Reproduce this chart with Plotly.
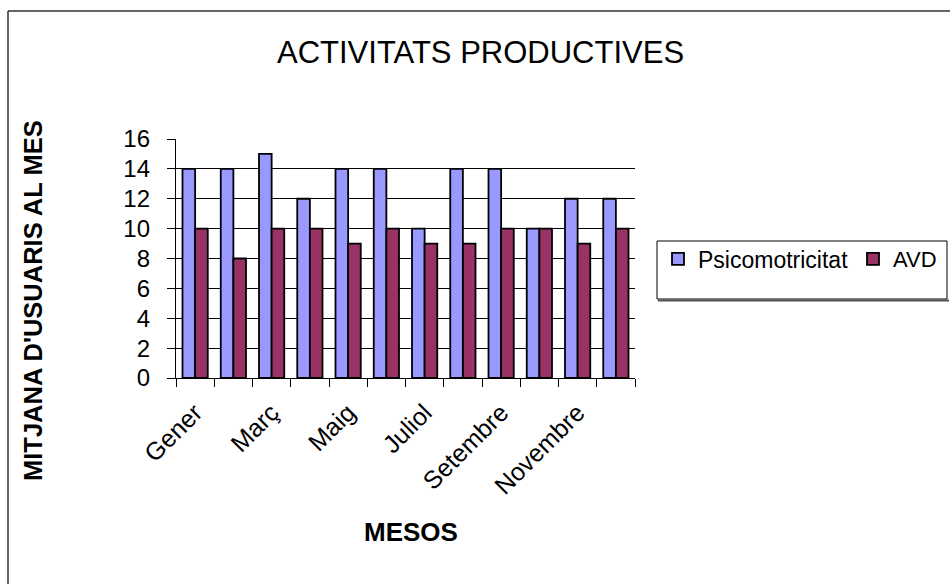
import plotly.graph_objects as go

# Monthly averages of users per activity
mesos = ["Gener", "Febrer", "Març", "Abril", "Maig", "Juny",
         "Juliol", "Agost", "Setembre", "Octubre", "Novembre", "Desembre"]
psicomotricitat = [14, 14, 15, 12, 14, 14, 10, 14, 14, 10, 12, 12]
avd = [10, 8, 10, 10, 9, 10, 9, 9, 10, 10, 9, 10]

# Only every other month gets a visible label
etiquetes = [m if i % 2 == 0 else "" for i, m in enumerate(mesos)]

W, H = 950, 584
L, R, T, B = 176, 315, 139, 206
PW, PH = W - L - R, H - T - B


def px_x(px):
    return (px - L) / PW


def px_y(py):
    return (H - B - py) / PH


FONT = "Liberation Sans, Arial, sans-serif"

fig = go.Figure()
fig.add_trace(go.Bar(
    x=mesos, y=psicomotricitat, name="Psicomotricitat", legend="legend",
    marker=dict(color="#9999FF", line=dict(color="#000000", width=1.8)),
))
fig.add_trace(go.Bar(
    x=mesos, y=avd, name="AVD", legend="legend2",
    marker=dict(color="#993366", line=dict(color="#000000", width=1.8)),
))

legend_common = dict(
    orientation="h", xanchor="left", yanchor="middle", y=px_y(259),
    bgcolor="rgba(0,0,0,0)", borderwidth=0,
    font=dict(size=23, family=FONT, color="#000000"),
    itemclick=False,
)

fig.update_layout(
    width=W, height=H,
    margin=dict(l=L, r=R, t=T, b=B, pad=0, autoexpand=False),
    paper_bgcolor="white", plot_bgcolor="white",
    barmode="group", bargap=0.34, bargroupgap=0,
    font=dict(family=FONT, color="#000000"),
    showlegend=True,
    legend=dict(legend_common, x=px_x(658)),
    legend2=dict(legend_common, x=px_x(853),
                 font=dict(size=22, family=FONT, color="#000000")),
    xaxis=dict(
        type="category", categoryorder="array", categoryarray=mesos,
        tickmode="array", tickvals=mesos, ticktext=etiquetes,
        tickson="boundaries", ticks="outside", ticklen=8,
        tickcolor="#000000", tickwidth=1,
        tickangle=-45, tickfont=dict(size=25, family=FONT),
        ticklabelstandoff=9,
        showline=True, linecolor="#000000", linewidth=1.3,
        showgrid=False, zeroline=False,
        range=[-0.5, 11.5],
    ),
    yaxis=dict(
        range=[0, 16], dtick=2, tick0=0,
        ticks="outside", ticklen=8, tickcolor="#000000", tickwidth=1.3,
        tickfont=dict(size=24, family=FONT),
        ticklabelstandoff=12,
        showline=True, linecolor="#000000", linewidth=1.3,
        showgrid=True, gridcolor="#000000", gridwidth=1.3,
        zeroline=False,
    ),
    annotations=[
        dict(text="ACTIVITATS PRODUCTIVES", xref="paper", yref="paper",
             x=px_x(480), y=px_y(52), xanchor="center", yanchor="middle",
             showarrow=False, font=dict(size=31, family=FONT)),
        dict(text="<b>MESOS</b>", xref="paper", yref="paper",
             x=px_x(411), y=px_y(532), xanchor="center", yanchor="middle",
             showarrow=False, font=dict(size=26, family=FONT)),
        dict(text="<b>MITJANA D'USUARIS AL MES</b>", xref="paper", yref="paper",
             x=px_x(33), y=px_y(301), xanchor="center", yanchor="middle",
             textangle=-90, showarrow=False, font=dict(size=25.5, family=FONT)),
    ],
    shapes=[
        # chart frame (top and left edges)
        dict(type="line", xref="paper", yref="paper",
             x0=px_x(8), x1=px_x(950), y0=px_y(11), y1=px_y(11),
             line=dict(color="#303030", width=1.5)),
        dict(type="line", xref="paper", yref="paper",
             x0=px_x(8), x1=px_x(8), y0=px_y(11), y1=px_y(584),
             line=dict(color="#303030", width=1.5)),
        # legend box with drop shadow
        dict(type="rect", xref="paper", yref="paper",
             x0=px_x(657), x1=px_x(947), y0=px_y(299), y1=px_y(241),
             line=dict(color="#000000", width=1), fillcolor="rgba(0,0,0,0)"),
        dict(type="line", xref="paper", yref="paper",
             x0=px_x(658), x1=px_x(949), y0=px_y(300.5), y1=px_y(300.5),
             line=dict(color="#505050", width=2)),
    ],
)

fig.write_html("out.html")
